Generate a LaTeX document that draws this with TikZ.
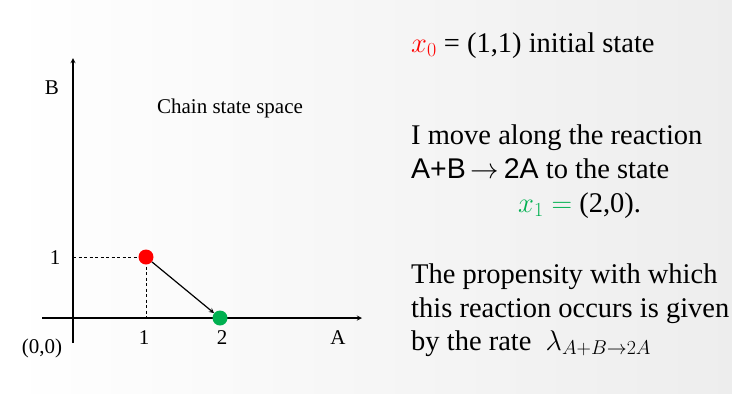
\RequirePackage{fix-cm}
\documentclass[tikz,border=0pt]{standalone}
\usepackage{fontspec}
\setmainfont{Liberation Serif}
\newfontfamily\reacfont{Liberation Sans}
\usetikzlibrary{arrows}
\definecolor{stategreen}{HTML}{00B050}

\begin{document}
\begin{tikzpicture}[x=1pt,y=-1pt,>=stealth,
    lbl/.style={font=\fontsize{21}{24}\selectfont},
    txt/.style={anchor=base west,inner sep=0pt,font=\fontsize{28.5}{34}\selectfont},
    dot/.style={circle,inner sep=0pt,minimum size=15pt}]
    % Fond
    \useasboundingbox (0,0) rectangle (732,400);
    \shade[left color=white, right color=black!7] (10,0) rectangle (732,393);
    % Axes
    \coordinate (Bb) at (73,343);
    \coordinate (Bt) at (73,58);
    \coordinate (Al) at (42,318);
    \coordinate (Ar) at (362,318);
    \coordinate (y1) at (73,257);
    \coordinate (a1) at (146,318);
    \draw[dashed, line width=0.6pt, dash pattern=on 3pt off 2.5pt] (y1) -- (146,257) -- (a1);
    \draw[->, line width=1.3pt] (Bb) -- (Bt);
    \draw[->, line width=1.3pt] (Al) -- (Ar);
    % Etats
    \node[dot, fill=red] (x0) at (146,257) {};
    \node[dot, fill=stategreen] (x1) at (220,318) {};
    \draw[->, line width=1.2pt] (x0) -- (x1);
    % Etiquettes
    \node[lbl] (labB) at (52,88) {B};
    \node[lbl] (labA) at (338,338) {A};
    \node[lbl] (tick1y) at (55,258) {1};
    \node[lbl] (tick1x) at (144,338) {1};
    \node[lbl] (tick2x) at (222,338) {2};
    \node[lbl] (orig) at (42,348) {(0,0)};
    \node[lbl] (title) at (230,108) {Chain state space};
    % Texte
    \node[txt] (t0) at (411,52) {\textcolor{red}{$x_0$} = (1,1) initial state};
    \node[txt] (t1) at (411,144) {I move along the reaction};
    \node[txt] (t2) at (411,178) {{\reacfont A+B$\,\rightarrow$\,2A} to the state};
    \node[txt] (t3) at (518,212) {$\color{stategreen}x_1 = $ (2,0).};
    \node[txt] (t4) at (411,283) {The propensity with which};
    \node[txt] (t5) at (411,317) {this reaction occurs is given};
    \node[txt] (t6) at (411,350) {by the rate \ $\lambda_{A+B\rightarrow 2A}$};
\end{tikzpicture}
\end{document}
